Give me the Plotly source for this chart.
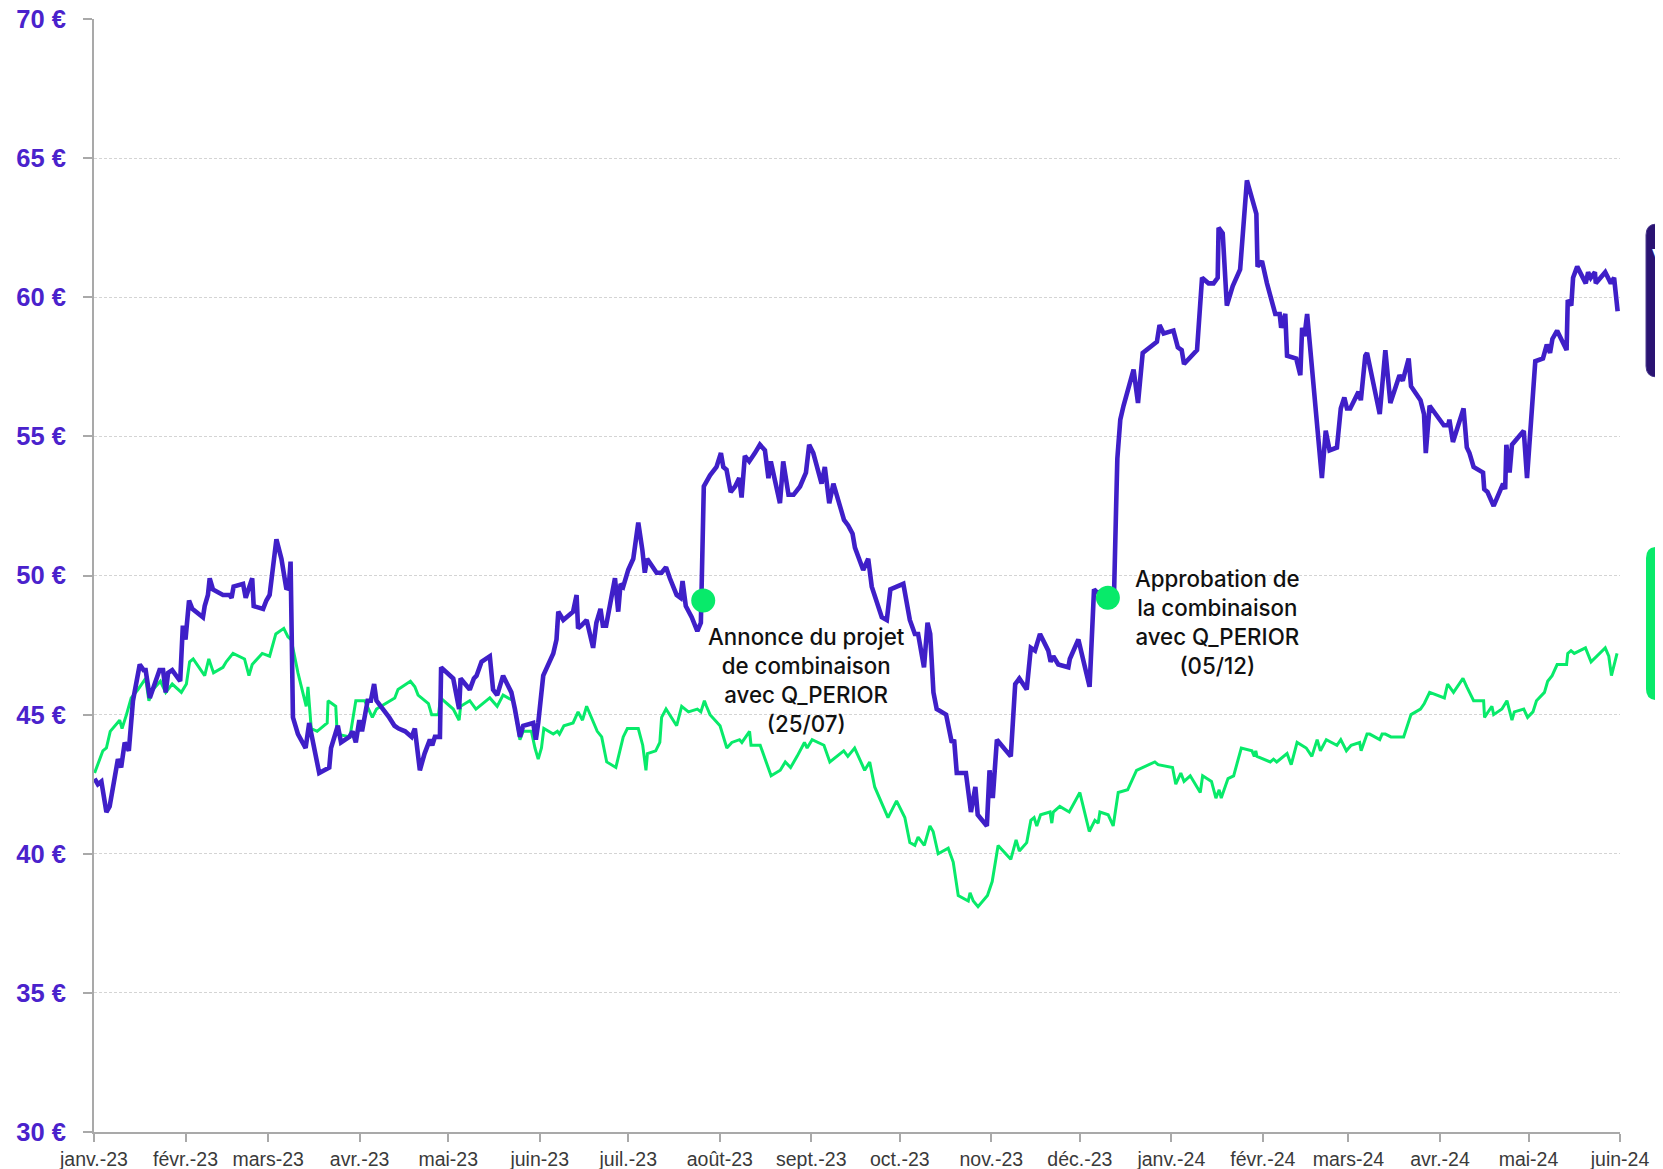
import pandas as pd
import plotly.graph_objects as go

# ---------------- DATA ----------------
START_DATE = "2023-01-01"

# purple series (share price): day offsets from START_DATE and price in €
purple_days = [0.2, 1.3, 2.5, 4.2, 5.3, 8.1, 9.2, 10.4, 11.8, 13.2, 15.5, 16.8, 17.5, 18.9, 22.2, 23.4, 24.3, 25.1,
               26.5, 29.2, 30.1, 31.0, 32.2, 33.3, 36.9, 37.5, 38.6, 39.2, 40.3, 43.7, 45.9, 46.6, 47.3, 50.5, 51.4,
               52.7, 53.6, 54.1, 57.3, 58.4, 59.5, 61.8, 63.5, 65.2, 66.0, 66.6, 67.4, 69.1, 71.7, 72.9, 76.3, 79.7,
               80.3, 82.6, 83.7, 86.5, 87.6, 88.7, 89.9, 90.8, 92.7, 93.8, 94.9, 95.7, 97.2, 100.0, 101.8, 103.2,
               105.4, 107.6, 108.7, 110.4, 112.0, 113.8, 114.6, 115.5, 117.2, 117.6, 121.7, 122.6, 123.7, 124.2,
               127.3, 128.7, 129.6, 131.3, 134.1, 135.2, 136.6, 138.6, 141.4, 142.6, 144.3, 145.4, 148.8, 149.7,
               150.5, 152.2, 155.6, 156.7, 157.3, 159.0, 162.3, 163.5, 164.0, 165.1, 166.9, 169.1, 170.2, 171.6,
               172.4, 173.5, 176.5, 177.6, 178.4, 179.3, 181.0, 182.7, 184.4, 185.8, 186.6, 187.4, 190.6, 192.3,
               193.8, 195.1, 197.4, 198.7, 199.4, 200.5, 202.5, 204.4, 205.6, 206.6, 208.7, 210.9, 212.4, 213.2,
               214.3, 215.7, 217.2, 218.6, 219.4, 220.5, 222.0, 223.9, 225.6, 227.3, 228.5, 229.3, 230.8, 232.4,
               233.5, 235.3, 237.0, 239.2, 241.2, 242.3, 243.7, 246.5, 247.6, 249.1, 250.5, 254.1, 255.5, 257.0,
               257.8, 260.6, 262.3, 263.5, 266.9, 268.6, 269.8, 274.2, 276.4, 278.1, 279.2, 281.2, 282.4, 283.3,
               284.4, 285.5, 288.7, 290.6, 291.4, 292.3, 295.4, 297.1, 298.6, 299.4, 302.5, 303.4, 304.5, 305.9,
               310.6, 312.1, 313.5, 316.0, 317.4, 318.8, 320.5, 323.3, 324.1, 325.0, 326.7, 330.1, 330.6, 333.5,
               337.3, 338.8, 339.7, 345.6, 346.3, 346.7, 347.7, 348.8, 352.2, 353.7, 355.3, 360.1, 361.0, 362.4,
               365.7, 367.2, 368.5, 369.3, 373.7, 375.4, 377.6, 379.3, 380.7, 381.0, 382.4, 383.8, 385.8, 388.3,
               390.6, 393.8, 394.2, 395.7, 397.4, 400.2, 401.7, 402.2, 403.6, 404.2, 407.3, 408.7, 409.3, 410.1,
               411.0, 416.0, 417.3, 418.6, 421.1, 422.4, 423.6, 424.5, 425.6, 428.4, 429.2, 430.7, 431.3, 432.3,
               435.6, 437.5, 439.2, 442.3, 443.4, 445.4, 446.2, 449.4, 450.6, 451.2, 452.5, 457.3, 458.8, 459.2,
               460.4, 464.0, 465.1, 466.0, 467.4, 470.6, 471.0, 472.1, 474.2, 477.4, 478.1, 478.5, 479.6, 480.4,
               484.4, 485.5, 488.3, 490.9, 492.2, 493.3, 494.1, 495.7, 498.9, 499.3, 500.5, 501.1, 502.5, 505.4,
               506.2, 507.1, 508.5, 508.8, 512.0, 513.9, 515.0, 516.2]
purple_values = [42.7, 42.5, 42.6, 41.5, 41.7, 43.4, 43.1, 44.0, 43.7, 45.5, 46.8, 46.6, 46.6, 45.6, 46.6, 46.6, 45.8, 46.5,
                 46.6, 46.2, 48.2, 47.7, 49.1, 48.8, 48.5, 48.9, 49.3, 49.9, 49.5, 49.3, 49.3, 49.2, 49.6, 49.7, 49.2,
                 49.7, 49.9, 48.9, 48.8, 49.1, 49.3, 51.3, 50.6, 49.5, 49.6, 50.5, 44.9, 44.3, 43.8, 44.7, 42.9, 43.1,
                 43.8, 44.6, 44.0, 44.2, 44.4, 44.0, 44.8, 44.4, 45.5, 45.5, 46.1, 45.5, 45.3, 44.9, 44.6, 44.5,
                 44.4, 44.2, 44.5, 43.0, 43.6, 44.1, 43.9, 44.2, 44.2, 46.7, 46.3, 45.7, 45.2, 46.3,
                 45.9, 46.3, 46.4, 46.9, 47.1, 45.9, 45.7, 46.4, 45.8, 45.2, 44.2, 44.6, 44.7, 44.1,
                 44.7, 46.4, 47.2, 47.7, 48.7, 48.4, 48.7, 49.3, 48.1, 48.2, 48.4, 47.4, 48.3, 48.8,
                 48.2, 48.2, 49.9, 48.7, 49.7, 49.6, 50.2, 50.6, 51.9, 50.9, 50.1, 50.6, 50.1, 50.1,
                 50.3, 49.9, 49.3, 49.2, 49.8, 48.9, 48.5, 48.0, 48.3, 53.2, 53.6, 53.9, 54.4, 53.9,
                 53.8, 53.0, 53.2, 53.5, 52.8, 54.3, 54.1, 54.4, 54.7, 54.5, 53.5, 54.1, 53.4, 52.6,
                 54.1, 52.9, 52.9, 53.2, 53.7, 54.7, 54.4, 53.3, 53.9, 52.6, 53.3, 52.0, 51.8, 51.5,
                 51.0, 50.2, 50.6, 49.6, 48.5, 48.4, 49.5, 49.7, 48.4, 47.9, 47.9, 46.7, 48.3, 47.9,
                 45.8, 45.2, 45.0, 44.0, 44.1, 42.9, 42.9, 41.5, 42.4, 41.4, 41.0, 43.0, 42.0, 44.1,
                 43.5, 46.1, 46.3, 45.9, 47.4, 47.3, 47.9, 47.3, 46.9, 47.1, 46.8, 46.7, 47.0, 47.7,
                 46.0, 49.5, 49.4, 49.4, 52.5, 54.2, 55.6, 56.1, 57.4, 56.2, 58.0, 58.4, 59.0, 58.7,
                 58.8, 58.2, 58.1, 57.6, 58.1, 60.7, 60.5, 60.5, 60.7, 62.5, 62.3, 59.7, 60.4, 61.0,
                 64.2, 63.0, 61.1, 61.3, 60.5, 59.4, 59.4, 58.9, 59.4, 57.9, 57.8, 57.2, 58.9, 58.6,
                 59.4, 53.5, 55.2, 54.5, 54.6, 56.0, 56.4, 56.0, 56.0, 56.6, 56.3, 57.9, 58.0, 57.5,
                 55.8, 58.1, 56.2, 57.2, 57.0, 57.8, 56.8, 56.3, 55.8, 54.4, 56.1, 55.4, 55.4, 55.6,
                 54.8, 56.0, 54.6, 54.4, 53.9, 53.7, 53.1, 53.0, 52.5, 53.3, 53.1, 54.7, 53.7, 54.7,
                 55.2, 53.5, 57.7, 57.8, 58.3, 58.0, 58.5, 58.8, 58.1, 59.9, 59.7, 60.7, 61.1, 60.5,
                 60.9, 60.7, 60.9, 60.5, 60.9, 60.5, 60.7, 59.5]

# green series (index rebased): day offsets from START_DATE and value in €
green_days = [0.2, 3.0, 4.2, 5.5, 8.7, 9.5, 11.0, 12.6, 14.9, 17.5, 18.6, 20.0, 22.5, 24.3, 26.5, 29.6, 31.3, 32.4,
              33.6, 37.5, 38.9, 40.5, 43.7, 44.8, 47.1, 51.0, 52.5, 53.6, 57.0, 59.5, 61.6, 64.3, 65.7, 66.8, 69.1,
              71.9, 72.5, 73.6, 75.6, 79.0, 79.3, 81.9, 82.4, 86.7, 88.7, 91.7, 94.3, 95.7, 101.9, 103.0, 107.2,
              108.7, 109.8, 113.3, 114.4, 116.7, 117.4, 121.7, 123.7, 124.2, 127.3, 129.4, 134.1, 136.6, 138.6,
              142.0, 142.9, 144.3, 145.4, 148.2, 149.4, 150.5, 151.6, 152.4, 155.6, 157.0, 157.7, 159.2, 162.3,
              164.0, 165.5, 166.9, 170.5, 172.0, 173.7, 176.8, 179.3, 180.7, 184.4, 185.9, 187.0, 187.5, 190.3,
              191.7, 192.3, 193.8, 197.4, 199.1, 201.4, 204.4, 205.6, 206.8, 207.5, 208.7, 212.1, 214.4, 216.1,
              218.7, 219.5, 222.1, 222.6, 225.7, 229.4, 232.5, 234.2, 236.0, 238.2, 240.7, 241.6, 243.3, 247.3,
              249.3, 254.0, 255.4, 257.7, 261.1, 262.8, 264.5, 269.0, 271.9, 274.7, 276.4, 278.1, 279.2, 281.3,
              283.2, 284.3, 286.0, 289.4, 291.1, 292.8, 296.2, 296.8, 297.9, 299.5, 302.7, 304.3, 306.3, 310.6,
              312.4, 313.5, 316.0, 317.4, 318.5, 319.4, 320.7, 323.9, 324.5, 325.0, 327.2, 330.4, 334.0, 337.2,
              339.1, 340.2, 340.8, 343.6, 345.3, 347.0, 350.2, 353.2, 359.4, 360.5, 365.4, 366.5, 368.2, 369.3,
              371.4, 374.8, 375.6, 378.6, 380.1, 381.2, 381.9, 384.2, 386.1, 388.7, 392.3, 393.1, 393.6, 394.0,
              398.5, 399.6, 400.7, 404.2, 405.6, 407.6, 410.7, 412.6, 414.4, 415.5, 417.5, 421.1, 422.4, 424.3,
              425.9, 428.8, 429.3, 431.3, 432.2, 435.6, 436.4, 437.5, 439.4, 442.6, 443.7, 446.2, 449.4, 450.7,
              452.5, 457.5, 458.6, 460.6, 463.8, 465.1, 467.4, 470.8, 471.1, 473.6, 474.2, 477.0, 478.7, 480.4,
              481.2, 484.4, 485.7, 487.5, 488.7, 491.4, 492.5, 494.0, 495.7, 498.9, 499.3, 500.4, 501.5, 505.3,
              507.2, 512.0, 513.2, 514.1, 516.0]
green_values = [42.9, 43.7, 43.8, 44.4, 44.8, 44.5, 45.0, 45.6, 45.9, 46.3, 45.5, 45.9, 46.2, 45.8, 46.1, 45.8, 46.1, 46.9,
                47.0, 46.4, 47.0, 46.5, 46.7, 46.9, 47.2, 47.0, 46.4, 46.8, 47.2, 47.1, 47.9, 48.1, 47.8, 47.7, 46.5,
                45.3, 46.0, 44.5, 44.4, 44.7, 45.5, 45.3, 44.3, 44.2, 45.5, 45.5, 44.9, 45.2, 45.6, 45.9, 46.2,
                46.0, 45.7, 45.4, 45.0, 45.0, 45.6, 45.2, 44.8, 45.3, 45.5, 45.2, 45.6, 45.3, 45.7,
                45.5, 45.0, 44.1, 44.4, 44.4, 43.8, 43.4, 43.8, 44.5, 44.3, 44.4, 44.3, 44.6, 44.7,
                45.1, 44.8, 45.3, 44.4, 44.2, 43.3, 43.1, 44.2, 44.5, 44.5, 43.9, 43.0, 43.6, 43.7,
                44.0, 44.9, 45.2, 44.6, 45.3, 45.1, 45.2, 45.1, 45.5, 45.3, 45.0, 44.6, 43.8, 44.0,
                44.1, 44.0, 44.4, 43.9, 43.9, 42.8, 43.0, 43.3, 43.1, 43.5, 44.0, 43.8, 44.1, 43.9,
                43.3, 43.7, 43.5, 43.8, 43.0, 43.3, 42.4, 41.3, 41.9, 41.3, 40.4, 40.3, 40.6, 40.3,
                41.0, 40.8, 40.0, 40.2, 39.7, 38.5, 38.3, 38.6, 38.3, 38.1, 38.5, 39.0, 40.3, 39.8,
                40.5, 40.1, 40.4, 41.2, 41.3, 41.0, 41.4, 41.5, 41.1, 41.5, 41.7, 41.5, 42.2, 40.8,
                41.2, 41.1, 41.5, 41.4, 41.0, 42.2, 42.3, 43.0, 43.3, 43.2, 43.1, 42.5, 42.9, 42.6,
                42.8, 42.2, 42.8, 42.6, 42.0, 42.3, 42.0, 42.7, 42.8, 43.8, 43.7, 43.5, 43.7, 43.5,
                43.3, 43.4, 43.3, 43.6, 43.2, 44.0, 43.8, 43.5, 44.1, 43.7, 44.1, 43.9, 44.1, 43.7,
                43.9, 44.0, 43.7, 44.3, 44.3, 44.1, 44.3, 44.3, 44.2, 44.2, 44.2, 45.0, 45.2, 45.4,
                45.8, 45.6, 46.1, 45.8, 46.3, 46.0, 45.5, 45.5, 44.9, 45.3, 45.0, 45.2, 45.5, 44.8,
                45.1, 45.2, 44.9, 45.1, 45.5, 45.8, 46.2, 46.4, 46.8, 46.8, 47.2, 47.3, 47.2, 47.4,
                46.9, 47.4, 47.1, 46.4, 47.2]

# event markers
event_days = [206.4, 343.5]
event_values = [49.1, 49.2]
event_labels = ["Annonce du projet<br>de combinaison<br>avec Q_PERIOR<br>(25/07)",
                "Approbation de<br>la combinaison<br>avec Q_PERIOR<br>(05/12)"]

# x-axis ticks
tick_dates = ["2023-01-01", "2023-02-01", "2023-03-01", "2023-04-01", "2023-05-01", "2023-06-01",
              "2023-07-01", "2023-08-01", "2023-09-01", "2023-10-01", "2023-11-01", "2023-12-01",
              "2024-01-01", "2024-02-01", "2024-03-01", "2024-04-01", "2024-05-01", "2024-06-01"]
tick_labels = ["janv.-23", "févr.-23", "mars-23", "avr.-23", "mai-23", "juin-23", "juil.-23", "août-23",
               "sept.-23", "oct.-23", "nov.-23", "déc.-23", "janv.-24", "févr.-24", "mars-24", "avr.-24",
               "mai-24", "juin-24"]
y_ticks = [30, 35, 40, 45, 50, 55, 60, 65, 70]
y_tick_labels = ["30 €", "35 €", "40 €", "45 €", "50 €", "55 €", "60 €", "65 €", "70 €"]

# ---------------- STYLE ----------------
PURPLE = "#3f1fc8"
GREEN = "#08ea6a"
LABEL_PURPLE = "#4a22cc"
W, H = 1663, 1169
OFF = 8  # page body margin offsets the whole figure
# target plot area in page pixels
PL, PR, PT, PB = 94.4, 1620, 19, 1132
ML = PL - OFF
MT = PT - OFF
MR = (W + OFF) - PR
MB = (H + OFF) - PB
pw = PR - PL
ph = PB - PT


def px_x(px):  # page pixel -> paper coordinate
    return (px - PL) / pw


def px_y(py):
    return 1 - (py - PT) / ph


base = pd.Timestamp(START_DATE)


def to_dates(days):
    return base + pd.to_timedelta(pd.Series(days), unit="D")


fig = go.Figure()
fig.add_trace(go.Scatter(x=to_dates(green_days), y=green_values, mode="lines",
                         line=dict(color=GREEN, width=3), hoverinfo="skip"))
fig.add_trace(go.Scatter(x=to_dates(purple_days), y=purple_values, mode="lines",
                         line=dict(color=PURPLE, width=4.6), hoverinfo="skip"))
fig.add_trace(go.Scatter(x=to_dates(event_days), y=event_values, mode="markers",
                         marker=dict(color=GREEN, size=24, line=dict(width=0)), hoverinfo="skip"))

# text blocks next to the event markers (page-pixel centres)
ann_pos = [(807, 680), (1218, 622)]
for (cx, cy), txt in zip(ann_pos, event_labels):
    fig.add_annotation(x=px_x(cx), y=px_y(cy), xref="paper", yref="paper", text=txt, showarrow=False,
                       xanchor="center", yanchor="middle", align="center",
                       font=dict(family="Inter, Roboto, sans-serif", size=22.3, color="#111111", weight=500))


def rounded_rect(x0, y0, x1, y1, r):
    X0, X1 = px_x(x0), px_x(x1)
    Y0, Y1 = px_y(y0), px_y(y1)
    rx = r / pw
    ry = r / ph
    return (f"M {X0 + rx},{Y0} L {X1 - rx},{Y0} Q {X1},{Y0} {X1},{Y0 - ry} L {X1},{Y1 + ry} "
            f"Q {X1},{Y1} {X1 - rx},{Y1} L {X0 + rx},{Y1} Q {X0},{Y1} {X0},{Y1 + ry} "
            f"L {X0},{Y0 - ry} Q {X0},{Y0} {X0 + rx},{Y0} Z")


fig.add_shape(type="path", xref="paper", yref="paper", path=rounded_rect(1646, 224, 1700, 377, 11),
              fillcolor="#2a1372", line=dict(color="#4a3a8c", width=1), layer="below")
fig.add_shape(type="path", xref="paper", yref="paper", path=rounded_rect(1646, 547, 1700, 700, 11),
              fillcolor=GREEN, line=dict(width=0), layer="below")
fig.add_annotation(x=px_x(1651), y=px_y(260), xref="paper", yref="paper", text="<b>V</b>", showarrow=False,
                   xanchor="left", yanchor="middle", borderpad=0,
                   font=dict(family="Liberation Sans, Arial, sans-serif", size=32, color="#ffffff"))

fig.update_layout(
    width=W, height=H,
    margin=dict(l=ML, r=MR, t=MT, b=MB, pad=0, autoexpand=False),
    paper_bgcolor="white", plot_bgcolor="white",
    showlegend=False,
    xaxis=dict(
        range=[tick_dates[0], tick_dates[-1]],
        tickmode="array", tickvals=tick_dates, ticktext=tick_labels,
        showgrid=False, zeroline=False, automargin=False,
        showline=True, linecolor="#a9a9a9", linewidth=2,
        ticks="outside", ticklen=8, tickwidth=1.5, tickcolor="#a9a9a9",
        ticklabelstandoff=1, ticklabeloverflow="allow",
        tickfont=dict(family="Liberation Sans, Arial, sans-serif", size=19.5, color="#3a3a3a"),
    ),
    yaxis=dict(
        range=[30, 70],
        tickmode="array", tickvals=y_ticks, ticktext=y_tick_labels,
        showgrid=True, gridcolor="#d4d4d4", gridwidth=1, griddash="3px,2px",
        zeroline=False, automargin=False,
        showline=True, linecolor="#a9a9a9", linewidth=2,
        ticks="outside", ticklen=9, tickwidth=1.5, tickcolor="#a9a9a9",
        ticklabelstandoff=12, ticklabeloverflow="allow",
        tickfont=dict(family="Liberation Sans, Arial, sans-serif", size=25.5, color=LABEL_PURPLE, weight="bold"),
    ),
)

fig.write_html("out.html")
